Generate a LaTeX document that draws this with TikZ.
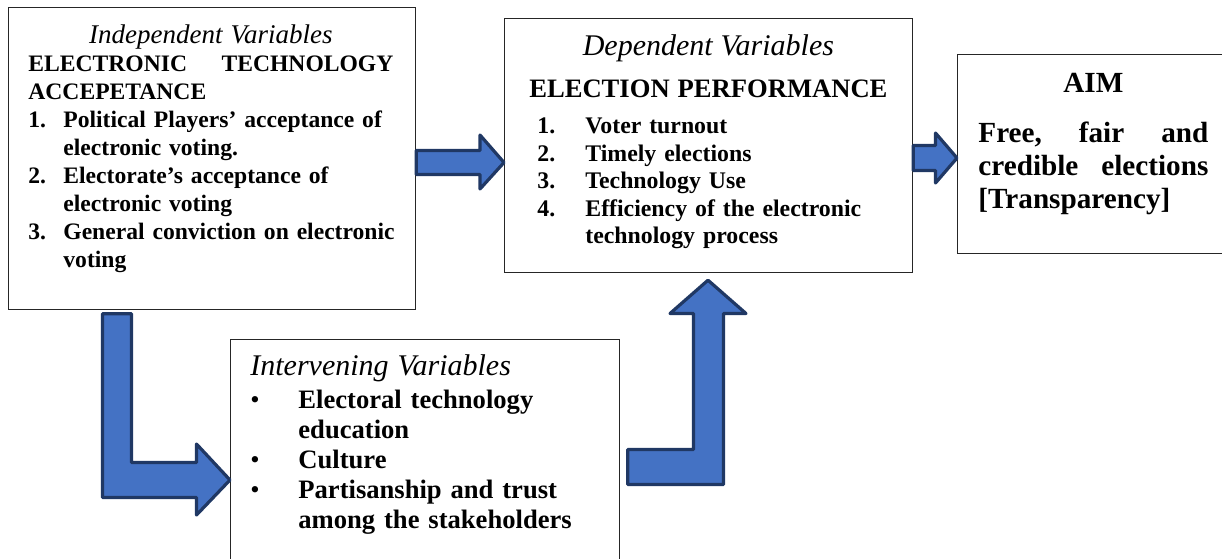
\documentclass[tikz,border=0pt]{standalone}
\usepackage{fontspec}
\setmainfont{Liberation Serif}
\usetikzlibrary{positioning,calc}

\definecolor{arrowblue}{HTML}{4472C4}
\definecolor{arrowdark}{HTML}{203864}

\tikzset{
    frame/.style={draw=black!85, line width=0.6pt, anchor=north west, inner sep=0pt},
    boxtext/.style={anchor=north west, inner sep=0pt, align=left},
    blockarrow/.style={fill=arrowblue, draw=arrowdark, line width=1.6pt, line join=round}
}

\begin{document}
\begin{tikzpicture}[x=0.5pt, y=-0.5pt]
        \useasboundingbox (0,0) rectangle (1222,558);

        % Frames
        \node[frame, minimum width=203.5pt, minimum height=151pt] (indep) at (8,7) {};
        \node[frame, minimum width=204pt, minimum height=127pt] (dep) at (504,18) {};
        \node[frame, minimum width=140pt, minimum height=99.5pt] (aim) at (957,54) {};
        \node[frame, minimum width=194.5pt, minimum height=120pt] (interv) at (230,339) {};

        % Independent variables
        \node[boxtext, text width=182.5pt, font={\bfseries\fontsize{11.8pt}{14pt}\selectfont}] (indeptext) at (28,24.6) {%
            \makebox[\hsize]{\mdseries\itshape\fontsize{13.5pt}{14pt}\selectfont Independent Variables}\\
            \makebox[\hsize][s]{ELECTRONIC\hfill TECHNOLOGY}\\
            ACCEPETANCE\\
            \makebox[17.5pt][l]{1.}\mbox{Political Players’ acceptance of}\\
            \hspace*{17.5pt}electronic voting.\\
            \makebox[17.5pt][l]{2.}\mbox{Electorate’s acceptance of}\\
            \hspace*{17.5pt}electronic voting\\
            \makebox[17.5pt][l]{3.}\mbox{General conviction on electronic}\\
            \hspace*{17.5pt}voting};

        % Dependent variables
        \node[boxtext, text width=188pt, font={\bfseries\fontsize{11.9pt}{13.75pt}\selectfont}] (deptext) at (520,34.5) {%
            \makebox[\hsize]{\mdseries\itshape\fontsize{15pt}{13.75pt}\selectfont Dependent Variables}\\[7.25pt]
            \makebox[\hsize]{\fontsize{13.3pt}{13.75pt}\selectfont ELECTION PERFORMANCE}\\[4.25pt]
            \hspace*{8.5pt}\makebox[24pt][l]{1.}Voter turnout\\
            \hspace*{8.5pt}\makebox[24pt][l]{2.}Timely elections\\
            \hspace*{8.5pt}\makebox[24pt][l]{3.}Technology Use\\
            \hspace*{8.5pt}\makebox[24pt][l]{4.}\mbox{Efficiency of the electronic}\\
            \hspace*{32.5pt}technology process};

        % Aim
        \node[boxtext, text width=115pt, font={\bfseries\fontsize{14.6pt}{16.5pt}\selectfont}] (aimtext) at (978,72.7) {%
            \makebox[\hsize]{AIM}\\[8.5pt]
            \makebox[\hsize][s]{Free,\hfill fair\hfill and}\\
            \makebox[\hsize][s]{credible\hfill elections}\\
            {[}Transparency{]}};

        % Intervening variables
        \node[boxtext, text width=175pt, font={\bfseries\fontsize{13.3pt}{15pt}\selectfont}] (intervtext) at (250,354.5) {%
            {\mdseries\itshape\fontsize{15pt}{15pt}\selectfont Intervening Variables}\\[1.5pt]
            \makebox[24pt][l]{\mdseries\textbullet}Electoral technology\\
            \hspace*{24pt}education\\
            \makebox[24pt][l]{\mdseries\textbullet}Culture\\
            \makebox[24pt][l]{\mdseries\textbullet}Partisanship and trust\\
            \hspace*{24pt}among the stakeholders};

        % Block arrows
        \draw[blockarrow] (indep.east |- 0,150.5) -- (480,150.5) -- (480,135)
            -- (dep.west |- 0,162.5) -- (480,189) -- (480,174.5) -- (indep.east |- 0,174.5) -- cycle;
        \draw[blockarrow] (dep.east |- 0,145.5) -- (935.5,145.5) -- (935.5,133)
            -- (aim.west |- 0,158) -- (935.5,183) -- (935.5,170.5) -- (dep.east |- 0,170.5) -- cycle;

        % Down then right
        \draw[blockarrow] ($(indep.south -| 102.5,0)+(0,3.5)$) -- ($(indep.south -| 131.5,0)+(0,3.5)$)
            -- (131.5,462.5) -- (196.5,462.5) -- (196.5,444) -- (interv.west |- 0,480)
            -- (196.5,515) -- (196.5,497.5) -- (102.5,497.5) -- cycle;

        % Right then up
        \draw[blockarrow] ($(interv.east |- 0,449.5)+(7.5,0)$) -- (693.5,449.5) -- (693.5,313.5)
            -- (670,313.5) -- ($(dep.south -| 708,0)+(0,7)$) -- (746,313.5) -- (723.5,313.5)
            -- (723.5,484.5) -- ($(interv.east |- 0,484.5)+(7.5,0)$) -- cycle;
\end{tikzpicture}
\end{document}
